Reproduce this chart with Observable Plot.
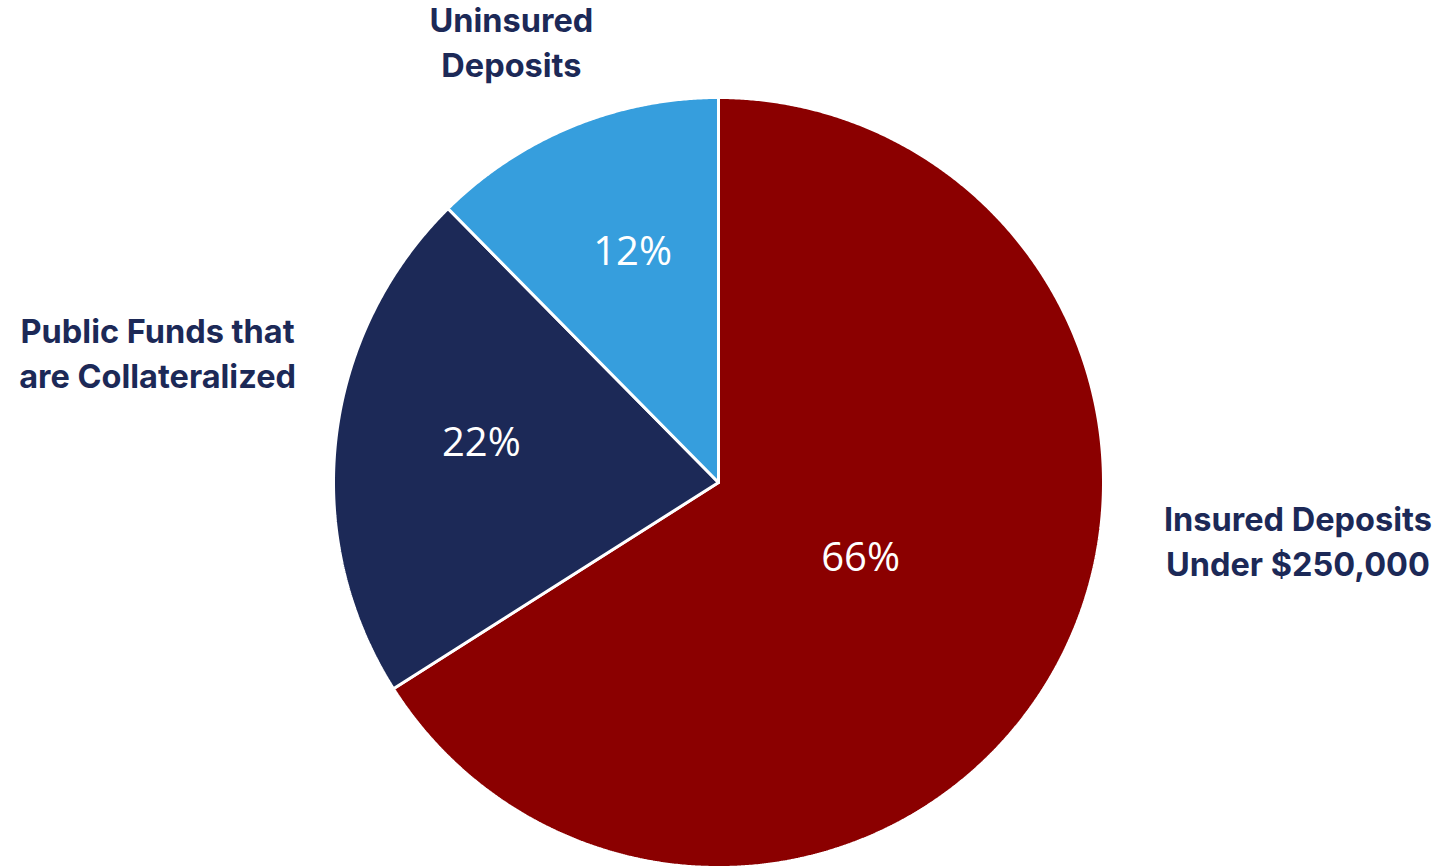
<!DOCTYPE html>
<html>
<head>
<meta charset="utf-8">
<script src="https://cdn.jsdelivr.net/npm/d3@7"></script>
<script src="https://cdn.jsdelivr.net/npm/@observablehq/plot@0.6"></script>
<style>
  html, body { margin: 0; padding: 0; background: #ffffff; }
  #chart { width: 1440px; height: 867px; }
</style>
</head>
<body>
<div id="chart"></div>
<script>
// ---- Data ----
const categories = ["Insured Deposits Under $250,000", "Public Funds that are Collateralized", "Uninsured Deposits"];
const labelLines = [["Insured Deposits", "Under $250,000"], ["Public Funds that", "are Collateralized"], ["Uninsured", "Deposits"]];
const shares = [66, 21.6, 12.4];
const percentLabels = ["66%", "22%", "12%"];
const colors = ["#8B0000", "#1C2957", "#369EDD"];

// ---- Layout (not data) ----
const W = 1440, H = 867;
const cx = 718, cy = 482, R = 385;
const pctPos = [[0.369, -0.197], [-0.616, 0.101], [-0.223, 0.597]];   // inner label centres, unit coords
const catPos = [[1.505, -0.147], [-1.457, 0.342], [-0.538, 1.150]];   // outside label centres, unit coords

const pie = d3.pie().sort(null).value(d => d)(shares);

// Polygon points for each slice (unit circle coords, y up)
const pts = [];
pie.forEach((s, i) => {
  const n = Math.max(8, Math.ceil((s.endAngle - s.startAngle) / 0.005));
  pts.push({cat: categories[i], x: 0, y: 0});
  for (let j = 0; j <= n; j++) {
    const a = s.startAngle + (s.endAngle - s.startAngle) * j / n;
    pts.push({cat: categories[i], x: Math.sin(a), y: Math.cos(a)});
  }
  pts.push({cat: categories[i], x: 0, y: 0});
});

const pctData = percentLabels.map((label, i) => ({cat: categories[i], label, x: pctPos[i][0], y: pctPos[i][1]}));
const catData = labelLines.map((lines, i) => ({cat: categories[i], text: lines.join("\n"), x: catPos[i][0], y: catPos[i][1]}));

const plot = Plot.plot({
  width: W,
  height: H,
  margin: 0,
  x: {domain: [-1, 1], range: [cx - R, cx + R], axis: null},
  y: {domain: [-1, 1], range: [cy + R, cy - R], axis: null},
  color: {domain: categories, range: colors},
  style: {background: "#ffffff", overflow: "visible"},
  marks: [
    Plot.line(pts, {x: "x", y: "y", z: "cat", fill: "cat", stroke: "#ffffff", strokeWidth: 3, strokeLinejoin: "miter", curve: "linear"}),
    Plot.text(pctData, {x: "x", y: "y", text: "label", fill: "#ffffff", fontSize: 40, fontFamily: "'Open Sans', sans-serif", fontWeight: 400, style: "letter-spacing: 3px"}),
    Plot.text(catData, {x: "x", y: "y", text: "text", fill: "#1C2957", fontSize: 32.5, fontFamily: "Inter, sans-serif", fontWeight: 700, lineHeight: 1.4, textAnchor: "middle"})
  ]
});
document.getElementById("chart").appendChild(plot);
</script>
</body>
</html>
